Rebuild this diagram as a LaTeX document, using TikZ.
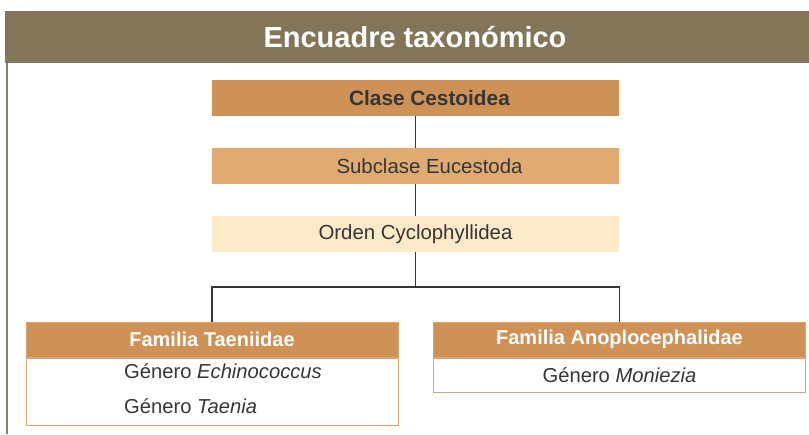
\documentclass[tikz,border=0pt]{standalone}
\usepackage{fontspec}
\setmainfont{Liberation Sans}
\usetikzlibrary{positioning}

\definecolor{barbrown}{HTML}{837558}
\definecolor{framegray}{HTML}{8A7F6A}
\definecolor{ochre}{HTML}{CE9257}
\definecolor{sand}{HTML}{E0AA73}
\definecolor{cream}{HTML}{FEE9C8}
\definecolor{tanline}{HTML}{DAA66F}
\definecolor{inkgray}{HTML}{363636}

\tikzset{
  rank/.style={minimum width=407pt, minimum height=36pt, inner sep=0pt,
    text=inkgray, font=\fontsize{20.4}{24}\selectfont},
  famhead/.style={fill=ochre, draw=tanline, line width=1pt, minimum width=372pt,
    minimum height=35pt, inner sep=0pt, text=white,
    font=\fontsize{20}{24}\selectfont\bfseries},
  fambody/.style={draw=tanline, line width=1pt, minimum width=372pt, inner sep=0pt},
  genus/.style={inner sep=0pt, text=inkgray, font=\fontsize{20.2}{24}\selectfont},
  link/.style={draw=inkgray, line width=1.3pt}
}

\begin{document}
\begin{tikzpicture}[x=1pt,y=-1pt]
  \useasboundingbox (0,0) rectangle (809,434);
  % title bar and frame
  \fill[barbrown] (5,11) rectangle (809,63);
  \draw[framegray, line width=2pt] (7,63) -- (7,434);
  \node[text=white, font=\fontsize{29}{32}\selectfont\bfseries] (title) at (415,37) {Encuadre taxonómico};

  % ranks
  \node[rank, fill=ochre, font=\fontsize{20.8}{24}\selectfont\bfseries] (clase) at (415.5,98) {\hspace*{28pt}Clase Cestoidea};
  \node[rank, fill=sand] (subcl) at (415.5,166) {\hspace*{28pt}Subclase Eucestoda};
  \node[rank, fill=cream] (orden) at (415.5,234) {Orden Cyclophyllidea};
  \coordinate (split) at (415.5,287);

  % families
  \node[famhead] (taen) at (212,339.5) {Familia Taeniidae};
  \node[fambody, minimum height=67pt, anchor=north] (taenbody) at (taen.south) {};
  \node[genus, anchor=west] (echino) at (124,371) {Género \textit{Echinococcus}};
  \node[genus, anchor=west] (taenia) at (124,406) {Género \textit{Taenia}};

  \node[famhead] (anop) at (619.5,339.5) {Familia Anoplocephalidae};
  \node[fambody, minimum height=34pt, anchor=north] (anopbody) at (anop.south) {};
  \node[genus] (moniez) at (anopbody.center) {Género \textit{Moniezia}};

  % connectors
  \draw[link] (clase) -- (subcl);
  \draw[link] (subcl) -- (orden);
  \draw[link] (orden) -- (split);
  \draw[link] (split) -| (taen.north);
  \draw[link] (split) -| (anop.north);
\end{tikzpicture}
\end{document}
